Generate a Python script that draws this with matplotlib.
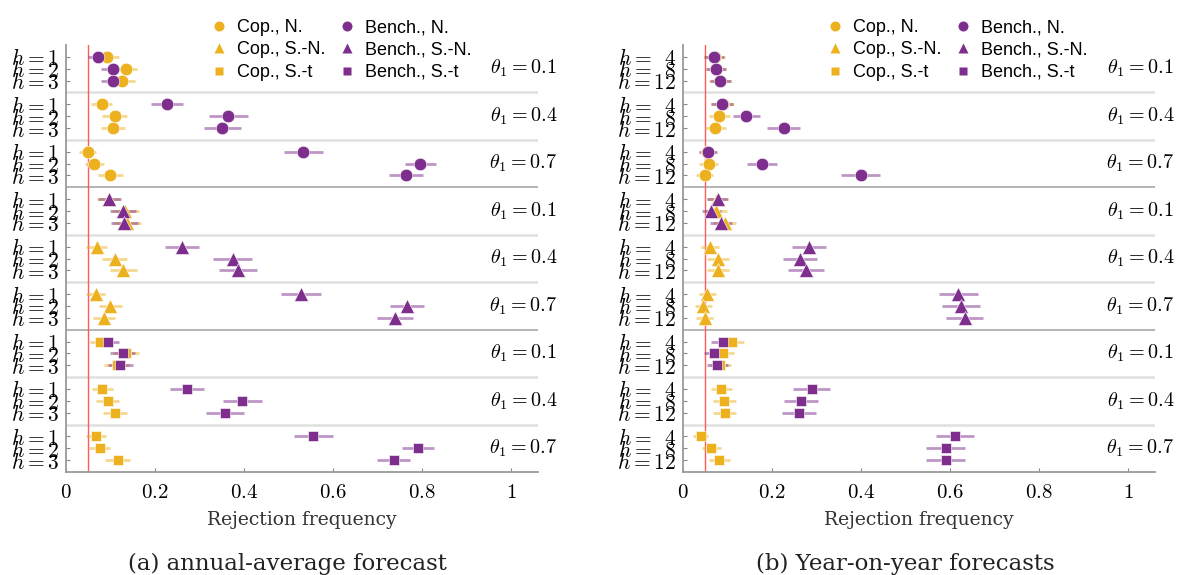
import matplotlib.pyplot as plt
from matplotlib.lines import Line2D

plt.rcParams['mathtext.fontset'] = 'cm'

# rejection frequencies, one entry per (theta, h) row: theta 0.1, 0.4, 0.7 x three horizons
# ---------- annual-average forecast ----------
a_cop_n = [0.093, 0.134, 0.126, 0.080, 0.109, 0.105, 0.049, 0.064, 0.100]
a_cop_n_ci = [0.025, 0.026, 0.028, 0.024, 0.029, 0.027, 0.019, 0.021, 0.028]
a_ben_n = [0.072, 0.106, 0.106, 0.228, 0.365, 0.351, 0.533, 0.796, 0.764]
a_ben_n_ci = [0.023, 0.027, 0.027, 0.036, 0.043, 0.042, 0.044, 0.035, 0.038]
a_cop_sn = [0.096, 0.133, 0.137, 0.069, 0.109, 0.129, 0.067, 0.100, 0.086]
a_cop_sn_ci = [0.026, 0.030, 0.031, 0.023, 0.028, 0.030, 0.021, 0.025, 0.025]
a_ben_sn = [0.097, 0.129, 0.131, 0.261, 0.375, 0.387, 0.528, 0.766, 0.739]
a_ben_sn_ci = [0.026, 0.029, 0.030, 0.038, 0.044, 0.043, 0.044, 0.038, 0.040]
a_cop_st = [0.076, 0.134, 0.114, 0.082, 0.094, 0.111, 0.067, 0.076, 0.116]
a_cop_st_ci = [0.023, 0.029, 0.028, 0.024, 0.026, 0.027, 0.022, 0.024, 0.028]
a_ben_st = [0.094, 0.127, 0.122, 0.272, 0.396, 0.357, 0.556, 0.792, 0.736]
a_ben_st_ci = [0.025, 0.029, 0.028, 0.039, 0.044, 0.042, 0.044, 0.036, 0.038]

# ---------- year-on-year forecasts ----------
y_cop_n = [0.071, 0.074, 0.083, 0.089, 0.082, 0.073, 0.055, 0.058, 0.049]
y_cop_n_ci = [0.023, 0.023, 0.024, 0.025, 0.024, 0.023, 0.020, 0.021, 0.019]
y_ben_n = [0.070, 0.074, 0.084, 0.088, 0.142, 0.226, 0.056, 0.178, 0.399]
y_ben_n_ci = [0.023, 0.023, 0.024, 0.025, 0.030, 0.038, 0.021, 0.034, 0.043]
y_cop_sn = [0.076, 0.075, 0.094, 0.061, 0.079, 0.079, 0.055, 0.046, 0.049]
y_cop_sn_ci = [0.023, 0.023, 0.026, 0.020, 0.024, 0.024, 0.020, 0.019, 0.019]
y_ben_sn = [0.078, 0.064, 0.085, 0.283, 0.263, 0.276, 0.619, 0.625, 0.633]
y_ben_sn_ci = [0.024, 0.021, 0.025, 0.039, 0.039, 0.041, 0.043, 0.043, 0.042]
y_cop_st = [0.109, 0.089, 0.084, 0.086, 0.093, 0.094, 0.040, 0.064, 0.082]
y_cop_st_ci = [0.028, 0.025, 0.024, 0.024, 0.026, 0.026, 0.017, 0.022, 0.024]
y_ben_st = [0.089, 0.070, 0.077, 0.289, 0.265, 0.261, 0.612, 0.590, 0.590]
y_ben_st_ci = [0.025, 0.023, 0.024, 0.041, 0.038, 0.038, 0.043, 0.044, 0.043]

thetas = ['0.1', '0.4', '0.7']
h_annual = ['1', '2', '3']
h_yoy = ['\\enspace4', '\\enspace8', '12']
alpha_level = 0.05

ORANGE = '#EDB120'
PURPLE = '#7E2F8E'
markers = ['o', '^', 's']
msizes = [9, 9.5, 6.5]


def panel(ax, cop, cop_ci, ben, ben_ci, horizons, caption):
    yticks, ylabels = [], []
    for b in range(3):
        rows = [(3 * b + g) * 4 + r + 1 for g in range(3) for r in range(3)]
        for vals, ci, col in [(cop[b], cop_ci[b], ORANGE), (ben[b], ben_ci[b], PURPLE)]:
            ax.errorbar(vals, rows, xerr=ci, fmt='none', ecolor=col, alpha=0.5,
                        elinewidth=2.0, capsize=0, zorder=3)
            ax.plot(vals, rows, linestyle='none', marker=markers[b], ms=msizes[b],
                    color=col, mec='white', mew=0.4, zorder=4)
        yticks += rows
        ylabels += ['$h = %s$' % h for h in horizons] * 3
        for g in range(3):
            ax.text(1.028, (3 * b + g) * 4 + 2, '$\\theta_1 = %s$' % thetas[g],
                    ha='center', va='center', fontsize=14.5, clip_on=False)

    # group separators, darker between the three distributions
    for k in range(1, 9):
        if k % 3 == 0:
            ax.axhline(4 * k, color='#a8a8a8', lw=1.2, zorder=1)
        else:
            ax.axhline(4 * k, color='#e0e0e0', lw=1.8, zorder=1)
    ax.axvline(alpha_level, color='#ff5a5a', lw=1.0, zorder=2)

    ax.set_xlim(0, 1.0607)
    ax.set_ylim(36, 0)
    ax.set_yticks(yticks)
    ax.set_yticklabels(ylabels, fontsize=15.5)
    ax.set_xticks([0, 0.2, 0.4, 0.6, 0.8, 1])
    ax.set_xticklabels(['$0$', '$0.2$', '$0.4$', '$0.6$', '$0.8$', '$1$'], fontsize=15)
    ax.tick_params(direction='in', length=3, color='#888888', width=0.8)
    ax.tick_params(axis='x', pad=7)
    ax.tick_params(axis='y', pad=5)
    for s in ['top', 'right']:
        ax.spines[s].set_visible(False)
    for s in ['left', 'bottom']:
        ax.spines[s].set_color('#9a9a9a')
        ax.spines[s].set_linewidth(1.3)
    ax.set_xlabel('Rejection frequency', family='DejaVu Serif', fontsize=13.5,
                  color='#333333', labelpad=7)
    ax.text(0.47, -0.215, caption, transform=ax.transAxes, ha='center', va='center',
            family='DejaVu Serif', fontsize=16.5, color='#222222')


fig = plt.figure(figsize=(11.79, 5.75), dpi=100)
ax1 = fig.add_axes([66 / 1179, 103 / 575, 472 / 1179, 427 / 575])
ax2 = fig.add_axes([683 / 1179, 103 / 575, 472 / 1179, 427 / 575])

panel(ax1,
      [a_cop_n, a_cop_sn, a_cop_st], [a_cop_n_ci, a_cop_sn_ci, a_cop_st_ci],
      [a_ben_n, a_ben_sn, a_ben_st], [a_ben_n_ci, a_ben_sn_ci, a_ben_st_ci],
      h_annual, '(a) annual-average forecast')
panel(ax2,
      [y_cop_n, y_cop_sn, y_cop_st], [y_cop_n_ci, y_cop_sn_ci, y_cop_st_ci],
      [y_ben_n, y_ben_sn, y_ben_st], [y_ben_n_ci, y_ben_sn_ci, y_ben_st_ci],
      h_yoy, '(b) Year-on-year forecasts')

# legend: marker-only handles, copula column then benchmark column
names = ['N.', 'S.-N.', 'S.-t']
handles = []
for prefix, col in [('Cop.', ORANGE), ('Bench.', PURPLE)]:
    for m, s, n in zip(markers, msizes, names):
        handles.append(Line2D([], [], linestyle='none', marker=m, color=col,
                              ms=s * 0.8, mec='none', label='%s, %s' % (prefix, n)))
for ax, x0 in [(ax1, 201), (ax2, 817)]:
    ax.legend(handles=handles, ncol=2, frameon=False, loc='upper left',
              bbox_to_anchor=(x0 / 1179, 1 - 10 / 575), bbox_transform=fig.transFigure,
              prop={'family': 'Liberation Sans', 'size': 13}, handlelength=1.0,
              handletextpad=0.5, columnspacing=0.7, labelspacing=0.3, borderpad=0)

fig.savefig('out.png', dpi=100)
